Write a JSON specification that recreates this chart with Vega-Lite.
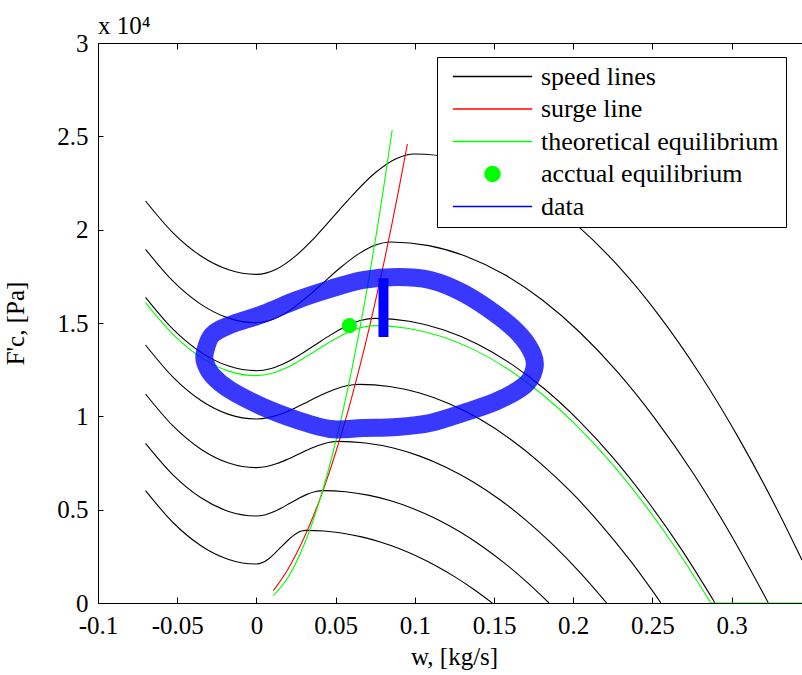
{
  "$schema": "https://vega.github.io/schema/vega-lite/v6.json",
  "width": 704,
  "height": 560,
  "autosize": {"type": "none"},
  "padding": {"left": 98, "top": 43, "right": 0, "bottom": 72},
  "background": "white",
  "config": {"view": {"stroke": null}, "font": "Liberation Serif, Times New Roman, DejaVu Serif, serif"},
  "title": {"text": "x 10⁴", "anchor": "start", "frame": "group", "offset": -8, "font": "Liberation Serif, Times New Roman, DejaVu Serif, serif", "fontSize": 25, "fontWeight": "normal", "color": "black"},
  "datasets": {
    "d": [
      {"s":"speed lines","p":"A","i":0,"w":-0.07,"F":21536},{"s":"speed lines","p":"A","i":1,"w":-0.0525,"F":19817},{"s":"speed lines","p":"A","i":2,"w":-0.035,"F":18589},{"s":"speed lines","p":"A","i":3,"w":-0.0175,"F":17853},{"s":"speed lines","p":"A","i":4,"w":0,"F":17607},
      {"s":"speed lines","p":"A","i":5,"w":0.0125,"F":17884},{"s":"speed lines","p":"A","i":6,"w":0.025,"F":18613},{"s":"speed lines","p":"A","i":7,"w":0.0375,"F":19644},{"s":"speed lines","p":"A","i":8,"w":0.05,"F":20831},{"s":"speed lines","p":"A","i":9,"w":0.0625,"F":22017},{"s":"speed lines","p":"A","i":10,"w":0.075,"F":23048},{"s":"speed lines","p":"A","i":11,"w":0.0875,"F":23777},{"s":"speed lines","p":"A","i":12,"w":0.1,"F":24054},
      {"s":"speed lines","p":"A","i":13,"w":0.1257,"F":23813},{"s":"speed lines","p":"A","i":14,"w":0.1514,"F":23092},{"s":"speed lines","p":"A","i":15,"w":0.1771,"F":21889},{"s":"speed lines","p":"A","i":16,"w":0.2028,"F":20205},{"s":"speed lines","p":"A","i":17,"w":0.2285,"F":18041},{"s":"speed lines","p":"A","i":18,"w":0.2542,"F":15395},{"s":"speed lines","p":"A","i":19,"w":0.2799,"F":12268},{"s":"speed lines","p":"A","i":20,"w":0.3056,"F":8659},{"s":"speed lines","p":"A","i":21,"w":0.3313,"F":4570},{"s":"speed lines","p":"A","i":22,"w":0.3444,"F":2300},

      {"s":"speed lines","p":"B","i":0,"w":-0.07,"F":18946},{"s":"speed lines","p":"B","i":1,"w":-0.0525,"F":17227},{"s":"speed lines","p":"B","i":2,"w":-0.035,"F":15999},{"s":"speed lines","p":"B","i":3,"w":-0.0175,"F":15262},{"s":"speed lines","p":"B","i":4,"w":0,"F":15016},
      {"s":"speed lines","p":"B","i":5,"w":0.0106,"F":15202},{"s":"speed lines","p":"B","i":6,"w":0.0213,"F":15691},{"s":"speed lines","p":"B","i":7,"w":0.0319,"F":16384},{"s":"speed lines","p":"B","i":8,"w":0.0425,"F":17178},{"s":"speed lines","p":"B","i":9,"w":0.0531,"F":17971},{"s":"speed lines","p":"B","i":10,"w":0.0638,"F":18664},{"s":"speed lines","p":"B","i":11,"w":0.0744,"F":19153},{"s":"speed lines","p":"B","i":12,"w":0.085,"F":19339},
      {"s":"speed lines","p":"B","i":13,"w":0.1088,"F":19146},{"s":"speed lines","p":"B","i":14,"w":0.1326,"F":18565},{"s":"speed lines","p":"B","i":15,"w":0.1565,"F":17598},{"s":"speed lines","p":"B","i":16,"w":0.1803,"F":16245},{"s":"speed lines","p":"B","i":17,"w":0.2041,"F":14504},{"s":"speed lines","p":"B","i":18,"w":0.2279,"F":12377},{"s":"speed lines","p":"B","i":19,"w":0.2517,"F":9863},{"s":"speed lines","p":"B","i":20,"w":0.2756,"F":6962},{"s":"speed lines","p":"B","i":21,"w":0.2994,"F":3674},{"s":"speed lines","p":"B","i":22,"w":0.3232,"F":0},

      {"s":"speed lines","p":"C","i":0,"w":-0.07,"F":16375},{"s":"speed lines","p":"C","i":1,"w":-0.0525,"F":14656},{"s":"speed lines","p":"C","i":2,"w":-0.035,"F":13428},{"s":"speed lines","p":"C","i":3,"w":-0.0175,"F":12692},{"s":"speed lines","p":"C","i":4,"w":0,"F":12446},
      {"s":"speed lines","p":"C","i":5,"w":0.0094,"F":12567},{"s":"speed lines","p":"C","i":6,"w":0.0188,"F":12884},{"s":"speed lines","p":"C","i":7,"w":0.0281,"F":13333},{"s":"speed lines","p":"C","i":8,"w":0.0375,"F":13848},{"s":"speed lines","p":"C","i":9,"w":0.0469,"F":14363},{"s":"speed lines","p":"C","i":10,"w":0.0563,"F":14812},{"s":"speed lines","p":"C","i":11,"w":0.0656,"F":15129},{"s":"speed lines","p":"C","i":12,"w":0.075,"F":15250},
      {"s":"speed lines","p":"C","i":13,"w":0.0965,"F":15098},{"s":"speed lines","p":"C","i":14,"w":0.1179,"F":14640},{"s":"speed lines","p":"C","i":15,"w":0.1394,"F":13878},{"s":"speed lines","p":"C","i":16,"w":0.1608,"F":12810},{"s":"speed lines","p":"C","i":17,"w":0.1823,"F":11438},{"s":"speed lines","p":"C","i":18,"w":0.2037,"F":9760},{"s":"speed lines","p":"C","i":19,"w":0.2252,"F":7778},{"s":"speed lines","p":"C","i":20,"w":0.2466,"F":5490},{"s":"speed lines","p":"C","i":21,"w":0.2681,"F":2898},{"s":"speed lines","p":"C","i":22,"w":0.2895,"F":0},

      {"s":"speed lines","p":"D","i":0,"w":-0.07,"F":13821},{"s":"speed lines","p":"D","i":1,"w":-0.0525,"F":12087},{"s":"speed lines","p":"D","i":2,"w":-0.035,"F":10848},{"s":"speed lines","p":"D","i":3,"w":-0.0175,"F":10105},{"s":"speed lines","p":"D","i":4,"w":0,"F":9857},
      {"s":"speed lines","p":"D","i":5,"w":0.0081,"F":9937},{"s":"speed lines","p":"D","i":6,"w":0.0163,"F":10147},{"s":"speed lines","p":"D","i":7,"w":0.0244,"F":10445},{"s":"speed lines","p":"D","i":8,"w":0.0325,"F":10786},{"s":"speed lines","p":"D","i":9,"w":0.0406,"F":11126},{"s":"speed lines","p":"D","i":10,"w":0.0488,"F":11424},{"s":"speed lines","p":"D","i":11,"w":0.0569,"F":11634},{"s":"speed lines","p":"D","i":12,"w":0.065,"F":11714},
      {"s":"speed lines","p":"D","i":13,"w":0.084,"F":11597},{"s":"speed lines","p":"D","i":14,"w":0.1031,"F":11245},{"s":"speed lines","p":"D","i":15,"w":0.1221,"F":10660},{"s":"speed lines","p":"D","i":16,"w":0.1412,"F":9840},{"s":"speed lines","p":"D","i":17,"w":0.1602,"F":8786},{"s":"speed lines","p":"D","i":18,"w":0.1792,"F":7497},{"s":"speed lines","p":"D","i":19,"w":0.1983,"F":5974},{"s":"speed lines","p":"D","i":20,"w":0.2173,"F":4217},{"s":"speed lines","p":"D","i":21,"w":0.2364,"F":2226},{"s":"speed lines","p":"D","i":22,"w":0.2554,"F":0},

      {"s":"speed lines","p":"E","i":0,"w":-0.07,"F":11196},{"s":"speed lines","p":"E","i":1,"w":-0.0525,"F":9470},{"s":"speed lines","p":"E","i":2,"w":-0.035,"F":8237},{"s":"speed lines","p":"E","i":3,"w":-0.0175,"F":7497},{"s":"speed lines","p":"E","i":4,"w":0,"F":7250},
      {"s":"speed lines","p":"E","i":5,"w":0.0065,"F":7311},{"s":"speed lines","p":"E","i":6,"w":0.013,"F":7470},{"s":"speed lines","p":"E","i":7,"w":0.0195,"F":7696},{"s":"speed lines","p":"E","i":8,"w":0.026,"F":7955},{"s":"speed lines","p":"E","i":9,"w":0.0325,"F":8214},{"s":"speed lines","p":"E","i":10,"w":0.039,"F":8440},{"s":"speed lines","p":"E","i":11,"w":0.0455,"F":8599},{"s":"speed lines","p":"E","i":12,"w":0.052,"F":8660},
      {"s":"speed lines","p":"E","i":13,"w":0.0689,"F":8573},{"s":"speed lines","p":"E","i":14,"w":0.0858,"F":8314},{"s":"speed lines","p":"E","i":15,"w":0.1027,"F":7881},{"s":"speed lines","p":"E","i":16,"w":0.1196,"F":7274},{"s":"speed lines","p":"E","i":17,"w":0.1366,"F":6495},{"s":"speed lines","p":"E","i":18,"w":0.1535,"F":5542},{"s":"speed lines","p":"E","i":19,"w":0.1704,"F":4417},{"s":"speed lines","p":"E","i":20,"w":0.1873,"F":3118},{"s":"speed lines","p":"E","i":21,"w":0.2042,"F":1645},{"s":"speed lines","p":"E","i":22,"w":0.2211,"F":0},

      {"s":"speed lines","p":"F","i":0,"w":-0.07,"F":8554},{"s":"speed lines","p":"F","i":1,"w":-0.0525,"F":6851},{"s":"speed lines","p":"F","i":2,"w":-0.035,"F":5634},{"s":"speed lines","p":"F","i":3,"w":-0.0175,"F":4904},{"s":"speed lines","p":"F","i":4,"w":0,"F":4661},
      {"s":"speed lines","p":"F","i":5,"w":0.0053,"F":4719},{"s":"speed lines","p":"F","i":6,"w":0.0105,"F":4873},{"s":"speed lines","p":"F","i":7,"w":0.0158,"F":5090},{"s":"speed lines","p":"F","i":8,"w":0.021,"F":5340},{"s":"speed lines","p":"F","i":9,"w":0.0263,"F":5589},{"s":"speed lines","p":"F","i":10,"w":0.0315,"F":5806},{"s":"speed lines","p":"F","i":11,"w":0.0368,"F":5960},{"s":"speed lines","p":"F","i":12,"w":0.042,"F":6018},
      {"s":"speed lines","p":"F","i":13,"w":0.0563,"F":5958},{"s":"speed lines","p":"F","i":14,"w":0.0705,"F":5777},{"s":"speed lines","p":"F","i":15,"w":0.0848,"F":5476},{"s":"speed lines","p":"F","i":16,"w":0.0991,"F":5055},{"s":"speed lines","p":"F","i":17,"w":0.1134,"F":4514},{"s":"speed lines","p":"F","i":18,"w":0.1276,"F":3852},{"s":"speed lines","p":"F","i":19,"w":0.1419,"F":3069},{"s":"speed lines","p":"F","i":20,"w":0.1562,"F":2166},{"s":"speed lines","p":"F","i":21,"w":0.1704,"F":1143},{"s":"speed lines","p":"F","i":22,"w":0.1847,"F":0},

      {"s":"speed lines","p":"G","i":0,"w":-0.07,"F":6018},{"s":"speed lines","p":"G","i":1,"w":-0.0525,"F":4299},{"s":"speed lines","p":"G","i":2,"w":-0.035,"F":3071},{"s":"speed lines","p":"G","i":3,"w":-0.0175,"F":2335},{"s":"speed lines","p":"G","i":4,"w":0,"F":2089},
      {"s":"speed lines","p":"G","i":5,"w":0.0039,"F":2167},{"s":"speed lines","p":"G","i":6,"w":0.0078,"F":2371},{"s":"speed lines","p":"G","i":7,"w":0.0116,"F":2660},{"s":"speed lines","p":"G","i":8,"w":0.0155,"F":2991},{"s":"speed lines","p":"G","i":9,"w":0.0194,"F":3322},{"s":"speed lines","p":"G","i":10,"w":0.0233,"F":3611},{"s":"speed lines","p":"G","i":11,"w":0.0271,"F":3815},{"s":"speed lines","p":"G","i":12,"w":0.031,"F":3893},
      {"s":"speed lines","p":"G","i":13,"w":0.0428,"F":3854},{"s":"speed lines","p":"G","i":14,"w":0.0546,"F":3737},{"s":"speed lines","p":"G","i":15,"w":0.0664,"F":3543},{"s":"speed lines","p":"G","i":16,"w":0.0782,"F":3270},{"s":"speed lines","p":"G","i":17,"w":0.09,"F":2920},{"s":"speed lines","p":"G","i":18,"w":0.1017,"F":2492},{"s":"speed lines","p":"G","i":19,"w":0.1135,"F":1985},{"s":"speed lines","p":"G","i":20,"w":0.1253,"F":1401},{"s":"speed lines","p":"G","i":21,"w":0.1371,"F":740},{"s":"speed lines","p":"G","i":22,"w":0.1489,"F":0},

      {"s":"surge line","p":"S","i":0,"w":0.0107,"F":659},{"s":"surge line","p":"S","i":1,"w":0.02,"F":1822},{"s":"surge line","p":"S","i":2,"w":0.03,"F":3478},{"s":"surge line","p":"S","i":3,"w":0.04,"F":5553},{"s":"surge line","p":"S","i":4,"w":0.05,"F":8047},{"s":"surge line","p":"S","i":5,"w":0.06,"F":10959},{"s":"surge line","p":"S","i":6,"w":0.07,"F":14291},{"s":"surge line","p":"S","i":7,"w":0.08,"F":18041},{"s":"surge line","p":"S","i":8,"w":0.09,"F":22211},{"s":"surge line","p":"S","i":9,"w":0.0953,"F":24589},

      {"s":"theoretical equilibrium","p":"T1","i":0,"w":-0.07,"F":16089},{"s":"theoretical equilibrium","p":"T1","i":1,"w":-0.0525,"F":14378},{"s":"theoretical equilibrium","p":"T1","i":2,"w":-0.035,"F":13157},{"s":"theoretical equilibrium","p":"T1","i":3,"w":-0.0175,"F":12423},{"s":"theoretical equilibrium","p":"T1","i":4,"w":0,"F":12179},
      {"s":"theoretical equilibrium","p":"T1","i":5,"w":0.0094,"F":12294},{"s":"theoretical equilibrium","p":"T1","i":6,"w":0.0188,"F":12597},{"s":"theoretical equilibrium","p":"T1","i":7,"w":0.0281,"F":13026},{"s":"theoretical equilibrium","p":"T1","i":8,"w":0.0375,"F":13518},{"s":"theoretical equilibrium","p":"T1","i":9,"w":0.0469,"F":14010},{"s":"theoretical equilibrium","p":"T1","i":10,"w":0.0563,"F":14439},{"s":"theoretical equilibrium","p":"T1","i":11,"w":0.0656,"F":14742},{"s":"theoretical equilibrium","p":"T1","i":12,"w":0.075,"F":14857},
      {"s":"theoretical equilibrium","p":"T1","i":13,"w":0.0962,"F":14708},{"s":"theoretical equilibrium","p":"T1","i":14,"w":0.1174,"F":14263},{"s":"theoretical equilibrium","p":"T1","i":15,"w":0.1385,"F":13520},{"s":"theoretical equilibrium","p":"T1","i":16,"w":0.1597,"F":12480},{"s":"theoretical equilibrium","p":"T1","i":17,"w":0.1809,"F":11143},{"s":"theoretical equilibrium","p":"T1","i":18,"w":0.2021,"F":9508},{"s":"theoretical equilibrium","p":"T1","i":19,"w":0.2233,"F":7577},{"s":"theoretical equilibrium","p":"T1","i":20,"w":0.2444,"F":5349},{"s":"theoretical equilibrium","p":"T1","i":21,"w":0.2656,"F":2823},{"s":"theoretical equilibrium","p":"T1","i":22,"w":0.2868,"F":0},
      {"s":"theoretical equilibrium","p":"T3","i":0,"w":0.2868,"F":0},{"s":"theoretical equilibrium","p":"T3","i":1,"w":0.3444,"F":0},

      {"s":"theoretical equilibrium","p":"T2","i":0,"w":0.0107,"F":395},{"s":"theoretical equilibrium","p":"T2","i":1,"w":0.02,"F":1380},{"s":"theoretical equilibrium","p":"T2","i":2,"w":0.03,"F":3105},{"s":"theoretical equilibrium","p":"T2","i":3,"w":0.04,"F":5520},{"s":"theoretical equilibrium","p":"T2","i":4,"w":0.05,"F":8625},{"s":"theoretical equilibrium","p":"T2","i":5,"w":0.06,"F":12420},{"s":"theoretical equilibrium","p":"T2","i":6,"w":0.07,"F":16905},{"s":"theoretical equilibrium","p":"T2","i":7,"w":0.08,"F":22080},{"s":"theoretical equilibrium","p":"T2","i":8,"w":0.0857,"F":25339},

      {"s":"data","p":"L","i":0,"w":-0.03245,"F":13446},{"s":"data","p":"L","i":1,"w":-0.02803,"F":14357},{"s":"data","p":"L","i":2,"w":-0.01667,"F":14893},{"s":"data","p":"L","i":3,"w":0.00417,"F":15482},{"s":"data","p":"L","i":4,"w":0.02563,"F":16232},{"s":"data","p":"L","i":5,"w":0.04646,"F":16821},{"s":"data","p":"L","i":6,"w":0.0673,"F":17303},{"s":"data","p":"L","i":7,"w":0.08876,"F":17464},{"s":"data","p":"L","i":8,"w":0.1096,"F":17303},{"s":"data","p":"L","i":9,"w":0.13043,"F":16607},{"s":"data","p":"L","i":10,"w":0.1519,"F":15429},{"s":"data","p":"L","i":11,"w":0.16641,"F":14357},{"s":"data","p":"L","i":12,"w":0.17462,"F":13286},
      {"s":"data","p":"L","i":13,"w":0.17525,"F":12482},{"s":"data","p":"L","i":14,"w":0.16957,"F":11679},{"s":"data","p":"L","i":15,"w":0.1519,"F":10821},{"s":"data","p":"L","i":16,"w":0.13043,"F":10179},{"s":"data","p":"L","i":17,"w":0.1096,"F":9643},{"s":"data","p":"L","i":18,"w":0.08876,"F":9429},{"s":"data","p":"L","i":19,"w":0.0673,"F":9375},{"s":"data","p":"L","i":20,"w":0.04646,"F":9321},{"s":"data","p":"L","i":21,"w":0.02563,"F":9804},{"s":"data","p":"L","i":22,"w":0.00417,"F":10500},{"s":"data","p":"L","i":23,"w":-0.01667,"F":11411},{"s":"data","p":"L","i":24,"w":-0.02803,"F":12214},{"s":"data","p":"L","i":25,"w":-0.03245,"F":12911},

      {"s":"data","p":"V","i":0,"w":0.0802,"F":17400},{"s":"data","p":"V","i":1,"w":0.0802,"F":14250},

      {"s":"acctual equilibrium","p":"P","i":0,"w":0.0587,"F":14857}
    ]
  },
  "data": {"name": "d"},
  "resolve": {"axis": {"x": "independent"}},
  "encoding": {
    "x": {"field": "w", "type": "quantitative", "scale": {"domain": [-0.1, 0.3444], "nice": false, "zero": false}, "axis": null},
    "y": {"field": "F", "type": "quantitative", "scale": {"domain": [0, 30000], "nice": false},
      "axis": {"values": [0, 5000, 10000, 15000, 20000, 25000, 30000], "labelExpr": "'' + (datum.value / 10000)", "title": "F'c, [Pa]",
        "titleFont": "Liberation Serif, Times New Roman, DejaVu Serif, serif", "titleFontSize": 25, "titleFontWeight": "normal", "titleColor": "black", "titlePadding": 28,
        "labelFont": "Liberation Serif, Times New Roman, DejaVu Serif, serif", "labelFontSize": 25, "labelColor": "black", "tickColor": "black", "domainColor": "black",
        "tickSize": -5, "labelPadding": 15, "grid": false, "labelFlush": false, "labelOverlap": false}},
    "color": {"field": "s", "type": "nominal",
      "scale": {"domain": ["speed lines", "surge line", "theoretical equilibrium", "acctual equilibrium", "data"], "range": ["#000000", "#ff0000", "#00ff00", "#00ff00", "#0000ff"]},
      "legend": {"title": null, "orient": "none", "legendX": 339, "legendY": 14,
        "fillColor": "white", "strokeColor": "black", "padding": 7, "clipHeight": 25,
        "labelFont": "Liberation Serif, Times New Roman, DejaVu Serif, serif", "labelFontSize": 26, "labelColor": "black", "labelLimit": 600, "labelOffset": 8,
        "symbolType": "stroke", "symbolSize": 6300, "symbolStrokeWidth": 1.4, "symbolOffset": 8, "rowPadding": 5.5,
        "encode": {
          "symbols": {"update": {
            "shape": {"signal": "datum.value == 'acctual equilibrium' ? 'circle' : 'stroke'"},
            "size": {"signal": "datum.value == 'acctual equilibrium' ? 230 : 6300"},
            "fill": {"signal": "datum.value == 'acctual equilibrium' ? '#00ff00' : 'transparent'"},
            "opacity": {"value": 1}
          }},
          "labels": {"update": {
            "text": {"signal": "datum.value == 'theoretical equilibrium' ? datum.value + '\u00a0\u00a0' : datum.value"}
          }}
        }}
    }
  },
  "layer": [
    {
      "transform": [{"filter": "datum.s == 'speed lines'"}],
      "mark": {"type": "line", "strokeWidth": 1.1, "interpolate": "monotone", "clip": true},
      "encoding": {
        "x": {"field": "w", "type": "quantitative",
          "axis": {"values": [-0.1, -0.05, 0, 0.05, 0.1, 0.15, 0.2, 0.25, 0.3], "labelExpr": "'' + datum.value", "title": "w, [kg/s]", "titleX": 356,
            "titleFont": "Liberation Serif, Times New Roman, DejaVu Serif, serif", "titleFontSize": 25, "titleFontWeight": "normal", "titleColor": "black", "titlePadding": 6,
            "labelFont": "Liberation Serif, Times New Roman, DejaVu Serif, serif", "labelFontSize": 25, "labelColor": "black", "tickColor": "black", "domainColor": "black",
            "tickSize": -6, "labelPadding": 16, "grid": false, "labelFlush": false, "labelOverlap": false}},
        "detail": {"field": "p"},
        "order": {"field": "i", "type": "quantitative"}
      }
    },
    {
      "transform": [{"filter": "datum.s == 'surge line' || datum.s == 'theoretical equilibrium'"}],
      "mark": {"type": "line", "strokeWidth": 1.1, "interpolate": "monotone", "clip": true},
      "encoding": {
        "x": {"field": "w", "type": "quantitative",
          "axis": {"orient": "top", "values": [-0.1, -0.05, 0, 0.05, 0.1, 0.15, 0.2, 0.25, 0.3], "labels": false, "title": null,
            "tickColor": "black", "domainColor": "black", "tickSize": -6, "grid": false}},
        "detail": {"field": "p"},
        "order": {"field": "i", "type": "quantitative"}
      }
    },
    {
      "transform": [{"filter": "datum.p == 'L'"}],
      "mark": {"type": "line", "strokeWidth": 18, "interpolate": "cardinal-closed", "opacity": 0.78, "strokeJoin": "round"},
      "encoding": {"order": {"field": "i", "type": "quantitative"}}
    },
    {
      "transform": [{"filter": "datum.p == 'V'"}],
      "mark": {"type": "line", "strokeWidth": 10, "strokeCap": "butt"},
      "encoding": {"order": {"field": "i", "type": "quantitative"}}
    },
    {
      "transform": [{"filter": "datum.p == 'P'"}],
      "mark": {"type": "point", "filled": true, "shape": "circle", "size": 230, "opacity": 1},
      "encoding": {}
    }
  ]
}
